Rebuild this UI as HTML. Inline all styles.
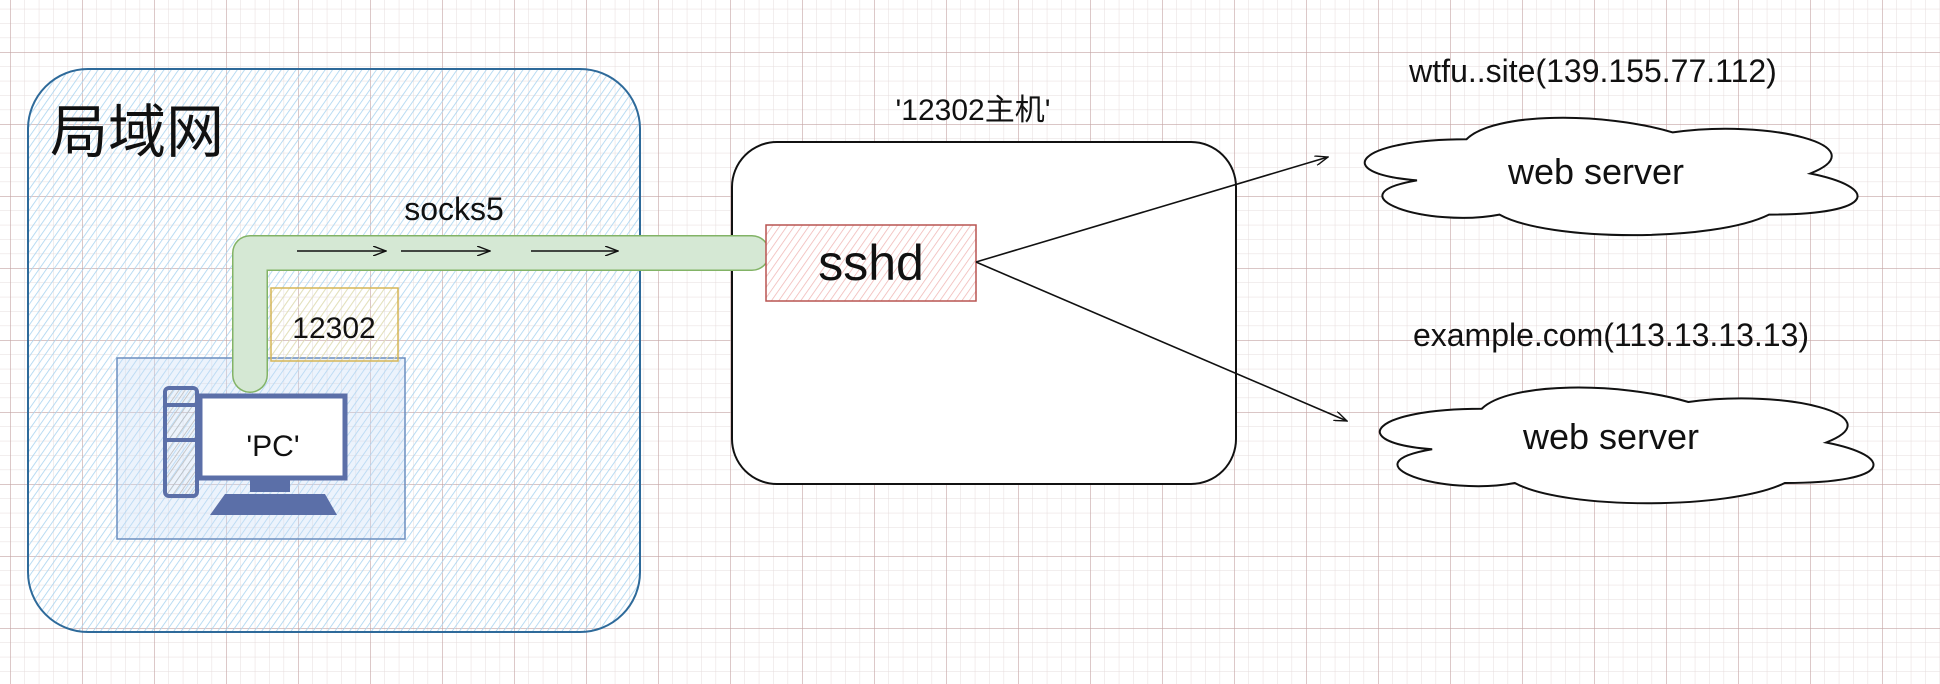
<!DOCTYPE html>
<html><head><meta charset="utf-8"><style>
html,body{margin:0;padding:0;background:#fff}
svg{display:block}
text{font-family:"Liberation Sans","Noto Sans CJK SC",sans-serif;fill:#111}
</style></head><body>
<svg width="1940" height="684" viewBox="0 0 1940 684" xmlns="http://www.w3.org/2000/svg">
<defs>
<pattern id="minor" width="14.4" height="14.4" patternUnits="userSpaceOnUse" x="10" y="52">
<path d="M0 0H14.4M0 0V14.4" stroke="#e6dcdc" stroke-width="1" fill="none"/></pattern>
<pattern id="major" width="72" height="72" patternUnits="userSpaceOnUse" x="10" y="52">
<path d="M0 0H72M0 0V72" stroke="#c4a4a4" stroke-width="1.2" fill="none"/></pattern>
<pattern id="hb" width="6" height="6" patternUnits="userSpaceOnUse" patternTransform="rotate(35)">
<line x1="0" y1="0" x2="0" y2="6" stroke="#a9d4f0" stroke-width="1.6"/></pattern>
<pattern id="hy" width="6" height="6" patternUnits="userSpaceOnUse" patternTransform="rotate(35)">
<line x1="0" y1="0" x2="0" y2="6" stroke="#f5e3a8" stroke-width="1.5"/></pattern>
<pattern id="hr" width="6" height="6" patternUnits="userSpaceOnUse" patternTransform="rotate(35)">
<line x1="0" y1="0" x2="0" y2="6" stroke="#f0b6b4" stroke-width="1.5"/></pattern>
<pattern id="hg" width="5" height="5" patternUnits="userSpaceOnUse" patternTransform="rotate(35)">
<line x1="0" y1="0" x2="0" y2="5" stroke="#bbb" stroke-width="1.5"/></pattern>
<marker id="ar" markerWidth="14" markerHeight="10" refX="13" refY="5" orient="auto" markerUnits="userSpaceOnUse">
<path d="M0 0L13 5L0 10" fill="none" stroke="#111" stroke-width="1.4"/></marker>
</defs>
<rect width="1940" height="684" fill="url(#minor)"/>
<rect width="1940" height="684" fill="url(#major)"/>

<!-- LAN -->
<rect x="28" y="69" width="612" height="563" rx="60" fill="url(#hb)" stroke="#2e6a9a" stroke-width="2"/>
<text x="50" y="152" font-size="58">局域网</text>

<!-- PC frame -->
<rect x="117" y="358" width="288" height="181" fill="rgba(200,220,245,0.35)" stroke="#6c8ebf" stroke-width="1.5"/>
<rect x="165" y="388" width="32" height="108" rx="4" fill="url(#hg)" stroke="#5b6fa8" stroke-width="4"/>
<line x1="165" y1="405" x2="197" y2="405" stroke="#5b6fa8" stroke-width="4"/>
<line x1="165" y1="440" x2="197" y2="440" stroke="#5b6fa8" stroke-width="4"/>
<rect x="200" y="396" width="145" height="82" fill="#fff" stroke="#5b6fa8" stroke-width="5"/>
<rect x="250" y="478" width="40" height="14" fill="#5b6fa8"/>
<path d="M225 494H325L337 515H210Z" fill="#5b6fa8"/>
<text x="273" y="456" font-size="30" text-anchor="middle">'PC'</text>

<!-- 12302 box -->
<rect x="271" y="288" width="127" height="73" fill="url(#hy)" stroke="#d6b656" stroke-width="1.5"/>
<text x="334" y="338" font-size="30" text-anchor="middle">12302</text>

<!-- host -->
<rect x="732" y="142" width="504" height="342" rx="45" fill="#fff" stroke="#111" stroke-width="2"/>
<text x="973" y="120" font-size="30" text-anchor="middle">'12302主机'</text>

<!-- green pipe -->
<path d="M752 253H250V375" fill="none" stroke="#82b366" stroke-width="36" stroke-linecap="round" stroke-linejoin="round"/>
<path d="M752 253H250V375" fill="none" stroke="#d5e8d4" stroke-width="33" stroke-linecap="round" stroke-linejoin="round"/>
<line x1="297" y1="251" x2="386" y2="251" stroke="#111" stroke-width="1.6" marker-end="url(#ar)"/>
<line x1="401" y1="251" x2="490" y2="251" stroke="#111" stroke-width="1.6" marker-end="url(#ar)"/>
<line x1="531" y1="251" x2="618" y2="251" stroke="#111" stroke-width="1.6" marker-end="url(#ar)"/>
<text x="454" y="220" font-size="32" text-anchor="middle">socks5</text>

<rect x="766" y="225" width="210" height="76" fill="#fff"/>
<rect x="766" y="225" width="210" height="76" fill="url(#hr)" stroke="#b85450" stroke-width="1.5"/>
<text x="871" y="280" font-size="50" text-anchor="middle">sshd</text>

<!-- arrows -->
<line x1="976" y1="262" x2="1328" y2="157" stroke="#111" stroke-width="1.6" marker-end="url(#ar)"/>
<line x1="976" y1="262" x2="1347" y2="421" stroke="#111" stroke-width="1.6" marker-end="url(#ar)"/>

<!-- clouds -->
<g transform="translate(1329,105) scale(550,137)">
<path d="M0.25 0.25C0.05 0.25 0 0.5 0.16 0.55C0 0.66 0.18 0.9 0.31 0.8C0.4 1 0.7 1 0.8 0.8C1 0.8 1 0.6 0.875 0.5C1 0.3 0.8 0.1 0.625 0.2C0.5 0.05 0.3 0.05 0.25 0.25Z" fill="#fff" stroke="#111" stroke-width="2" vector-effect="non-scaling-stroke"/>
</g>
<text x="1596" y="184" font-size="36" text-anchor="middle">web server</text>
<g transform="translate(1344,375) scale(551,135)">
<path d="M0.25 0.25C0.05 0.25 0 0.5 0.16 0.55C0 0.66 0.18 0.9 0.31 0.8C0.4 1 0.7 1 0.8 0.8C1 0.8 1 0.6 0.875 0.5C1 0.3 0.8 0.1 0.625 0.2C0.5 0.05 0.3 0.05 0.25 0.25Z" fill="#fff" stroke="#111" stroke-width="2" vector-effect="non-scaling-stroke"/>
</g>
<text x="1611" y="449" font-size="36" text-anchor="middle">web server</text>

<text x="1593" y="82" font-size="32" text-anchor="middle">wtfu..site(139.155.77.112)</text>
<text x="1611" y="346" font-size="32" text-anchor="middle">example.com(113.13.13.13)</text>
</svg>
</body></html>
